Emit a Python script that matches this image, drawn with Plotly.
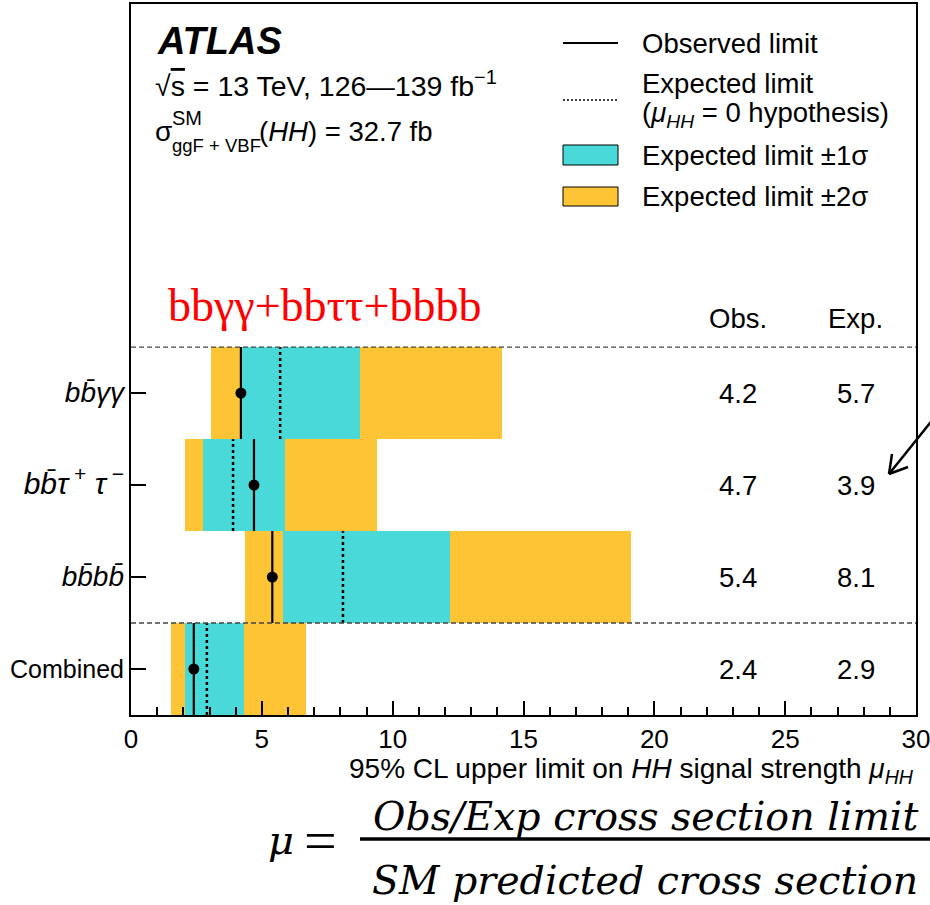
import plotly.graph_objects as go

# Channels (bottom to top) and their 95% CL limits on mu_HH
channels = ["Combined", "bb̄bb̄", "bb̄τ⁺τ⁻", "bb̄γγ"]
channel_labels = [
    "Combined",
    "<span style='font-size:28px'><i>bb̄bb̄</i></span>",
    "<span style='font-size:30px'><i>bb̄τ</i><sup> +</sup><i> τ</i><sup> −</sup></span>",
    "<span style='font-size:28px'><i>bb̄γγ</i></span>",
]
row_pos = [0, 1, 2, 3]
observed = [2.4, 5.4, 4.7, 4.2]
expected = [2.9, 8.1, 3.9, 5.7]
band1_lo = [2.06, 5.82, 2.77, 4.24]
band1_hi = [4.30, 12.19, 5.88, 8.77]
band2_lo = [1.51, 4.34, 2.07, 3.07]
band2_hi = [6.70, 19.12, 9.40, 14.18]
x_ticks = [0, 5, 10, 15, 20, 25, 30]

ORANGE = "#FDC536"
CYAN = "#49D9D9"
FONT = "Liberation Sans, Arial, Helvetica, sans-serif"
SERIF = "Liberation Serif, Times New Roman, serif"
MATH = "DejaVu Serif, serif"
TXT = 27.5

W, H = 930, 905
L, R, T, B = 131, 916, 4, 715


def px(x):
    return (x - L) / (R - L)


def py(y):
    return (B - y) / (B - T)


fig = go.Figure()

# +-2 sigma and +-1 sigma bands
fig.add_trace(go.Bar(
    y=row_pos, x=[h - l for l, h in zip(band2_lo, band2_hi)], base=band2_lo,
    orientation="h", width=1, marker=dict(color=ORANGE, line=dict(width=0)),
    showlegend=False, hoverinfo="skip"))
fig.add_trace(go.Bar(
    y=row_pos, x=[h - l for l, h in zip(band1_lo, band1_hi)], base=band1_lo,
    orientation="h", width=1, marker=dict(color=CYAN, line=dict(width=0)),
    showlegend=False, hoverinfo="skip"))

# expected limits (dotted) and observed limits (solid + marker)
ex, ey, ox, oy = [], [], [], []
for r, e, o in zip(row_pos, expected, observed):
    ex += [e, e, None]
    ey += [r - 0.5, r + 0.5, None]
    ox += [o, o, None]
    oy += [r - 0.5, r + 0.5, None]
fig.add_trace(go.Scatter(x=ex, y=ey, mode="lines",
                         line=dict(color="black", width=2.5, dash="dot"),
                         showlegend=False, hoverinfo="skip"))
fig.add_trace(go.Scatter(x=ox, y=oy, mode="lines",
                         line=dict(color="black", width=2.2),
                         showlegend=False, hoverinfo="skip"))
fig.add_trace(go.Scatter(x=observed, y=row_pos, mode="markers",
                         marker=dict(color="black", size=11),
                         showlegend=False, hoverinfo="skip"))

shapes = []
# separators
for yv in (3.5, 0.5):
    shapes.append(dict(type="line", xref="x", yref="y", x0=0, x1=30, y0=yv, y1=yv,
                       line=dict(color="#444444", width=1.4, dash="5px,3px")))

# legend samples
shapes.append(dict(type="line", xref="paper", yref="paper", x0=px(563), x1=px(618),
                   y0=py(43), y1=py(43), line=dict(color="black", width=2)))
shapes.append(dict(type="line", xref="paper", yref="paper", x0=px(563), x1=px(618),
                   y0=py(100), y1=py(100), line=dict(color="black", width=1.5, dash="2px,2px")))
shapes.append(dict(type="rect", xref="paper", yref="paper", x0=px(563), x1=px(618),
                   y0=py(165), y1=py(145), fillcolor=CYAN, line=dict(color="black", width=1)))
shapes.append(dict(type="rect", xref="paper", yref="paper", x0=px(563), x1=px(618),
                   y0=py(206), y1=py(187), fillcolor=ORANGE, line=dict(color="black", width=1)))

# arrow pointing at the table
for (x0, y0, x1, y1) in [(934, 418, 889, 474), (889, 474, 892, 454), (889, 474, 908, 467)]:
    shapes.append(dict(type="line", xref="paper", yref="paper", x0=px(x0), x1=px(x1),
                       y0=py(y0), y1=py(y1), line=dict(color="black", width=2.5)))

# fraction bar of the definition
shapes.append(dict(type="line", xref="paper", yref="paper", x0=px(360), x1=px(930),
                   y0=py(839), y1=py(839), line=dict(color="black", width=3.5)))

ann = []


def text(x, y, s, size=TXT, xanchor="left", family=FONT, color="black", xref="paper", yref="paper"):
    ann.append(dict(x=x, y=y, xref=xref, yref=yref, text=s, showarrow=False,
                    xanchor=xanchor, yanchor="middle",
                    font=dict(family=family, size=size, color=color)))


text(px(155), py(41), "<b><i>ATLAS</i></b>", size=38)
text(px(153), py(84), "√<span style='text-decoration:overline'>s</span> = 13 TeV, 126—139 fb<sup>−1</sup>", size=28.5)
text(px(153), py(131), "σ", size=28)
text(px(170), py(118), "SM", size=20)
text(px(170), py(146), "ggF + VBF", size=18.5)
text(px(257), py(131), "(<i>HH</i>) = 32.7 fb", size=27.5)

text(px(640), py(43), "Observed limit")
text(px(640), py(83), "Expected limit")
text(px(640), py(115), "(<i>μ</i><sub><i>HH</i></sub> = 0 hypothesis)")
text(px(640), py(155), "Expected limit ±1σ")
text(px(640), py(197), "Expected limit ±2σ")

text(px(325), py(305), "bbγγ+bbττ+bbbb", size=46, xanchor="center", family=SERIF, color="#FF0000")

obs_col, exp_col = 23.2, 27.7
text(obs_col, py(318), "Obs.", xanchor="center", xref="x")
text(exp_col, py(318), "Exp.", xanchor="center", xref="x")
for r, o, e in zip(row_pos, observed, expected):
    text(obs_col, r, f"{o:.1f}", xanchor="center", xref="x", yref="y")
    text(exp_col, r, f"{e:.1f}", xanchor="center", xref="x", yref="y")

text(1.0, py(770), "95% CL upper limit on <i>HH</i> signal strength <i>μ</i><sub><i>HH</i></sub>",
     size=28, xanchor="right")

text(px(281), py(840), "<i>μ</i>", size=40, xanchor="center", family=MATH)
text(px(320), py(840), "=", size=58, xanchor="center", family=SERIF)
text(px(645), py(816), "<i>Obs/Exp cross section limit</i>", size=39.5, xanchor="center", family=MATH)
text(px(645), py(880), "<i>SM predicted cross section</i>", size=39.5, xanchor="center", family=MATH)

fig.update_layout(
    width=W, height=H,
    margin=dict(l=L, r=W - R, t=T, b=H - B),
    paper_bgcolor="white", plot_bgcolor="white",
    barmode="overlay", bargap=0,
    shapes=shapes, annotations=ann,
    font=dict(family=FONT, size=TXT, color="black"),
    xaxis=dict(range=[0, 30], tickvals=x_ticks, ticktext=[str(v) for v in x_ticks],
               ticks="inside", ticklen=14, tickwidth=2, tickcolor="black",
               minor=dict(dtick=1, ticks="inside", ticklen=8, tickwidth=1.5, tickcolor="black"),
               showline=True, linewidth=2, linecolor="black", mirror=True,
               showgrid=False, zeroline=False, automargin=False,
               ticklabeloverflow="allow",
               tickfont=dict(family=FONT, size=26)),
    yaxis=dict(range=[-0.5, 7.23], tickvals=row_pos, ticktext=channel_labels,
               ticks="inside", ticklen=15, tickwidth=2, tickcolor="black",
               showline=True, linewidth=2, linecolor="black", mirror=True,
               showgrid=False, zeroline=False, automargin=False,
               tickfont=dict(family=FONT, size=25)),
)

fig.write_html("out.html")
